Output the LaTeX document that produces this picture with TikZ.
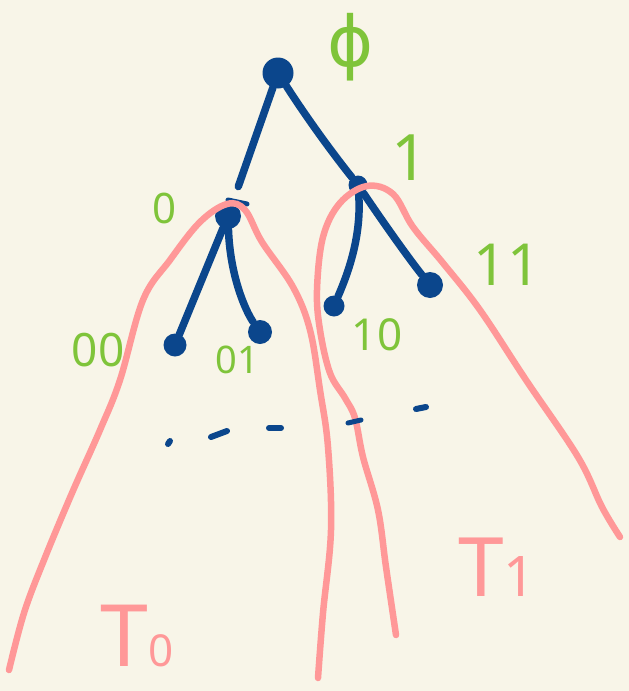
\documentclass[tikz,border=0pt]{standalone}
\usepackage{fontspec}
\setmainfont{Noto Sans}
\newfontfamily\symbolfont{DejaVu Sans}
\usepackage{xcolor}
\usetikzlibrary{positioning}

\definecolor{paper}{HTML}{F8F5E8}
\definecolor{treeblue}{HTML}{0B468C}
\definecolor{treered}{HTML}{FF9898}
\definecolor{labelgreen}{HTML}{7FC43A}

\begin{document}
\begin{tikzpicture}[x=1pt,y=-1pt]
        \tikzset{vertex/.style={circle, fill=treeblue, inner sep=0pt, minimum size=#1}}
        \tikzset{edgeB/.style={treeblue, line width=7.5pt, line cap=round}}
        \tikzset{subtreeR/.style={treered, line width=6.5pt, line cap=round, line join=round}}
        \tikzset{lblG/.style={text=labelgreen, inner sep=0pt}}
        \tikzset{lblR/.style={text=treered, inner sep=0pt, anchor=base west}}

        \fill[paper] (0,0) rectangle (629,691);

        % the binary tree
        \node[vertex=31pt] (root) at (278,73) {};
        \node[vertex=26pt] (n0) at (228,216) {};
        \node[vertex=19pt] (n1) at (358,185) {};
        \node[vertex=23pt] (n00) at (175,345) {};
        \node[vertex=24pt] (n01) at (260,332) {};
        \node[vertex=21pt] (n10) at (334,306) {};
        \node[vertex=26pt] (n11) at (430,285) {};

        \draw[edgeB, shorten >=18pt] (root) -- (n0);
        \draw[edgeB] (root) .. controls (305,115) and (330,150) .. (n1);
        \draw[edgeB] (n0) -- (n00);
        \draw[edgeB] (n0) .. controls (230,275) and (245,310) .. (n01);
        \draw[edgeB] (n1) .. controls (362,240) and (345,280) .. (n10);
        \draw[edgeB] (n1) .. controls (385,225) and (410,260) .. (n11);
        \draw[edgeB, line width=5pt] (228,200) -- (247,204);

        % the two subtrees
        \draw[subtreeR] plot[smooth, tension=0.6] coordinates {(9,670) (24,613) (44,560) (72,493) (100,430) (120,380) (143,300) (170,260) (200,222) (227,204) (245,210) (262,242) (293,287) (310,330) (320,390) (328,447) (331,530) (323,613) (318,678)};
        \draw[subtreeR] plot[smooth, tension=0.6] coordinates {(396,635) (386,567) (378,510) (363,457) (355,418) (345,398) (330,373) (320,330) (317,290) (323,237) (340,203) (367,186) (393,194) (413,227) (443,263) (480,310) (526,380) (578,457) (602,507) (620,537)};

        % dots
        \draw[edgeB, line width=6pt] (168,444) -- (170,441);
        \draw[edgeB, line width=6pt] (211,437) -- (227,431);
        \draw[edgeB, line width=6pt] (269,428) -- (281,428);
        \draw[edgeB, line width=5pt] (348,423) -- (361,420);
        \draw[edgeB, line width=6pt] (416,409) -- (426,407);

        % labels
        \node[lblG, font=\symbolfont\fontsize{70}{70}\selectfont] (lroot) at (351,47) {ϕ};
        \node[lblG, font=\fontsize{64}{64}\selectfont] (l1) at (410,158) {1};
        \node[lblG, font=\fontsize{42}{42}\selectfont] (l0) at (165,208) {0};
        \node[lblG, font=\fontsize{46}{46}\selectfont] (l00) at (98,350) {00};
        \node[lblG, font=\fontsize{38}{38}\selectfont] (l01) at (237,360) {01};
        \node[lblG, font=\fontsize{44}{44}\selectfont] (l10) at (377,335) {10};
        \node[lblG, font=\fontsize{58}{58}\selectfont] (l11) at (507,265) {11};
        \node[lblR] (lT0) at (100,666) {\fontsize{86}{86}\selectfont T\fontsize{44}{44}\selectfont 0};
        \node[lblR] (lT1) at (458,596) {\fontsize{82}{82}\selectfont T\fontsize{56}{56}\selectfont 1};
    \end{tikzpicture}
\end{document}
